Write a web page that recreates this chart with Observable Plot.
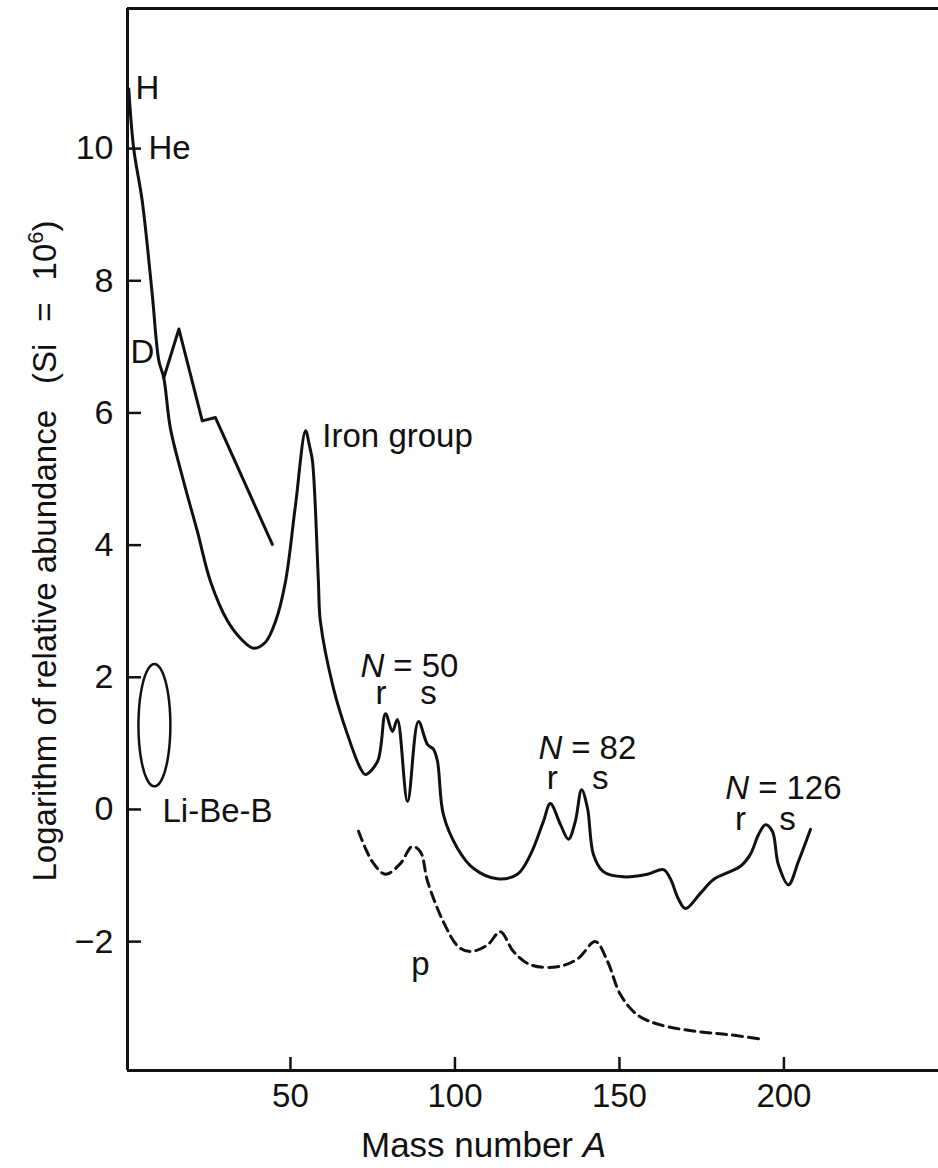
<!DOCTYPE html>
<html>
<head>
<meta charset="utf-8">
<script src="https://cdn.jsdelivr.net/npm/d3@7"></script>
<script src="https://cdn.jsdelivr.net/npm/@observablehq/plot@0.6"></script>
<style>
  body { margin: 0; background: #fff; }
  #chart svg { display: block; }
</style>
</head>
<body>
<div id="chart"></div>
<script>
// Solar-system abundance curve: mass number A vs log10 abundance (Si = 1e6)
const mainA = [1.76, 3.28, 5.84, 8.88, 10.9, 12.4, 14.4, 18.4, 22.6, 26.6, 31.8, 35.7, 39.7, 43.3, 46.4,
  49.4, 52.4, 55.5, 56.7, 57.6, 59.4, 60.0, 64.0, 68.2, 72.2, 73.7, 77.4, 79.8, 81.9, 83.4, 86.5,
  89.8, 92.6, 94.4, 95.6, 97.4, 101.7, 106.5, 113.8, 119.9, 123.9, 127.8, 129.9, 133.0, 135.4,
  137.5, 139.4, 141.2, 143.0, 146.0, 152.1, 159.4, 164.3, 166.4, 168.8, 171.0, 175.5, 179.5,
  187.7, 190.7, 193.2, 195.3, 197.4, 199.2, 202.3, 205.3, 209.0];
const mainLog = [10.9, 9.99, 9.21, 7.80, 6.79, 6.53, 5.77, 4.97, 4.21, 3.45, 2.85, 2.59, 2.44, 2.53, 2.85,
  3.45, 4.59, 5.73, 5.50, 5.27, 3.45, 2.85, 1.83, 1.14, 0.62, 0.53, 0.73, 1.45, 1.18, 1.36, 0.12,
  1.33, 0.98, 0.91, 0.73, -0.08, -0.59, -0.89, -1.05, -0.98, -0.68, -0.18, 0.09, -0.23, -0.45,
  -0.18, 0.30, 0.02, -0.68, -0.94, -1.02, -0.98, -0.91, -1.05, -1.35, -1.50, -1.27, -1.06,
  -0.86, -0.68, -0.38, -0.23, -0.33, -0.83, -1.14, -0.79, -0.30];

// Alpha-nuclei branch (C to Ca)
const alphaA = [12.4, 17.0, 24.1, 28.1, 45.4];
const alphaLog = [6.53, 7.27, 5.88, 5.93, 4.01];

// p-process nuclei (dashed)
const pA = [71.6, 75.8, 79.8, 84.3, 87.9, 90.4, 92.6, 97.4, 102.0, 105.6, 110.8, 114.7, 118.7, 123.9,
  132.1, 138.2, 143.6, 147.3, 151.2, 156.4, 163.4, 174.6, 184.6, 194.7];
const pLog = [-0.33, -0.79, -0.98, -0.82, -0.56, -0.64, -1.09, -1.70, -2.08, -2.15, -2.05, -1.85, -2.15,
  -2.35, -2.38, -2.26, -2.00, -2.30, -2.80, -3.11, -3.26, -3.36, -3.41, -3.48];

// Li-Be-B region: extent in A and in log abundance
const liBeBA = [4.7, 14.4];
const liBeBLog = [0.35, 2.2];

// Axis ticks
const xTicks = [50, 100, 150, 200];
const yTicks = [-2, 0, 2, 4, 6, 8, 10];

// Annotations: left-aligned names and centred r / s / p marks
const nameText = ["H", "He", "D", "Iron group", "N = 50", "N = 82", "N = 126", "Li-Be-B"];
const nameA = [3.8, 7.75, 2.28, 60.6, 72.2, 126.3, 183.1, 12.0];
const nameLog = [10.91, 10.0, 6.91, 5.65, 2.17, 0.92, 0.32, -0.03];
const markText = ["r", "s", "r", "s", "r", "s", "p"];
const markA = [78.4, 92.9, 130.5, 145.1, 187.7, 202.0, 90.4];
const markLog = [1.76, 1.76, 0.47, 0.47, -0.15, -0.15, -2.35];

const xDomain = [1.37, 247.9];
const yDomain = [-3.95, 12.12];

const mainData = mainA.map((a, i) => ({a, v: mainLog[i]}));
const alphaData = alphaA.map((a, i) => ({a, v: alphaLog[i]}));
const pData = pA.map((a, i) => ({a, v: pLog[i]}));
const names = nameText.map((t, i) => ({t, a: nameA[i], v: nameLog[i]}));
const marksRS = markText.map((t, i) => ({t, a: markA[i], v: markLog[i]}));

// Outline of the Li-Be-B ellipse, traced through the x/y scales
const cA = (liBeBA[0] + liBeBA[1]) / 2, rA = (liBeBA[1] - liBeBA[0]) / 2;
const cV = (liBeBLog[0] + liBeBLog[1]) / 2, rV = (liBeBLog[1] - liBeBLog[0]) / 2;
const ellipse = d3.range(0, 73).map(k => {
  const th = (k / 72) * 2 * Math.PI;
  return {a: cA + rA * Math.cos(th), v: cV + rV * Math.sin(th)};
});

const font = "'Liberation Sans', Arial, Helvetica, sans-serif";
const ink = "#111";
const fmt = d => (d < 0 ? "\u2212" + (-d) : String(d));

const chart = Plot.plot({
  width: 938,
  height: 1168,
  marginLeft: 127,
  marginRight: 0,
  marginTop: 8,
  marginBottom: 98,
  style: {fontFamily: font, fontSize: "33px", color: ink, background: "#fff", overflow: "visible"},
  x: {domain: xDomain},
  y: {domain: yDomain},
  marks: [
    Plot.axisX(xTicks, {tickSize: -13, tickPadding: 26, strokeWidth: 2.5, fontSize: 33, label: null, dx: 3, tickFormat: fmt}),
    Plot.axisY(yTicks, {tickSize: -14, tickPadding: 28, strokeWidth: 2.5, fontSize: 34, label: null, tickFormat: fmt}),
    Plot.ruleX([xDomain[0]], {stroke: ink, strokeWidth: 3}),
    Plot.ruleY([yDomain[1]], {stroke: ink, strokeWidth: 3}),
    Plot.ruleY([yDomain[0]], {stroke: ink, strokeWidth: 3}),
    Plot.line(mainData, {x: "a", y: "v", stroke: ink, strokeWidth: 3, curve: "catmull-rom"}),
    Plot.line(alphaData, {x: "a", y: "v", stroke: ink, strokeWidth: 3, curve: "linear"}),
    Plot.line(pData, {x: "a", y: "v", stroke: ink, strokeWidth: 3, strokeDasharray: "10,6", curve: "catmull-rom"}),
    Plot.line(ellipse, {x: "a", y: "v", stroke: ink, strokeWidth: 2.5, curve: "catmull-rom"}),
    Plot.text(names, {x: "a", y: "v", text: "t", textAnchor: "start", fontSize: 33, fill: ink}),
    Plot.text(marksRS, {x: "a", y: "v", text: "t", textAnchor: "middle", fontSize: 33, fill: ink}),
    Plot.text(["Mass number A"], {x: 109.6, frameAnchor: "bottom", dy: 86, textAnchor: "middle", fontSize: 35, fill: ink}),
    Plot.text(["Logarithm of relative abundance (Si = 10^6)"], {frameAnchor: "left", y: -1.09, dx: -82, rotate: -90, textAnchor: "start", fontSize: 33, fill: ink})
  ]
});

// Typographic details: italic symbols and the superscript exponent
function addSpan(parent, str, attrs = {}) {
  const s = document.createElementNS("http://www.w3.org/2000/svg", "tspan");
  for (const [k, v] of Object.entries(attrs)) s.setAttribute(k, v);
  s.textContent = str;
  parent.appendChild(s);
  return s;
}
chart.querySelectorAll("text").forEach(t => {
  const s = t.textContent;
  if (/^N = /.test(s)) {
    t.textContent = "";
    addSpan(t, "N", {"font-style": "italic"});
    addSpan(t, "=", {dx: 9});
    addSpan(t, s.slice(4), {dx: 9});
  } else if (s === "Mass number A") {
    t.textContent = "";
    addSpan(t, "Mass number ");
    addSpan(t, "A", {"font-style": "italic"});
  } else if (s.startsWith("Logarithm")) {
    t.textContent = "";
    addSpan(t, "Logarithm of relative abundance");
    addSpan(t, "(Si", {dx: 26});
    addSpan(t, "=", {dx: 22});
    addSpan(t, "10", {dx: 22});
    addSpan(t, "6", {dy: -13, "font-size": "22px"});
    addSpan(t, ")", {dy: 13});
  }
});

document.getElementById("chart").appendChild(chart);
</script>
</body>
</html>
